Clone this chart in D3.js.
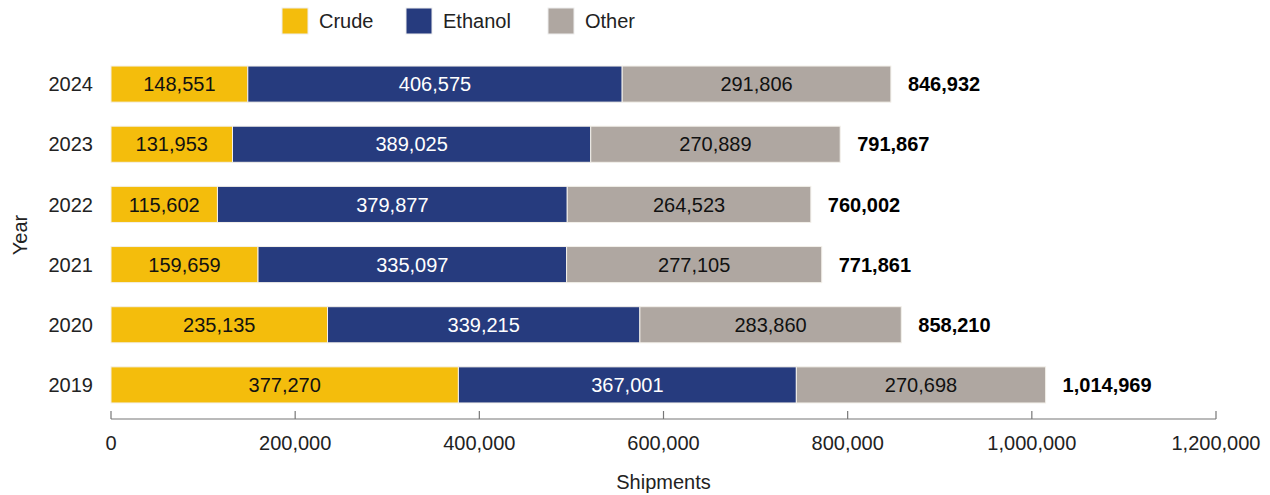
<!DOCTYPE html>
<html>
<head>
<meta charset="utf-8">
<script src="https://cdn.jsdelivr.net/npm/d3@7"></script>
<style>
  body { margin: 0; background: #fff; }
  text { font-family: "Liberation Sans", Arial, sans-serif; font-size: 20px; }
</style>
</head>
<body>
<svg id="chart" width="1270" height="495"></svg>
<script>
const years   = ["2024", "2023", "2022", "2021", "2020", "2019"];
const crude   = [148551, 131953, 115602, 159659, 235135, 377270];
const ethanol = [406575, 389025, 379877, 335097, 339215, 367001];
const other   = [291806, 270889, 264523, 277105, 283860, 270698];
const totals  = [846932, 791867, 760002, 771861, 858210, 1014969];
const seriesNames = ["Crude", "Ethanol", "Other"];
const colors = ["#f4bd0c", "#263b7e", "#afa7a1"];
const xTicks = [0, 200000, 400000, 600000, 800000, 1000000, 1200000];

const svg = d3.select("#chart");
const fmt = d3.format(",");

const x = d3.scaleLinear().domain([0, 1200000]).range([111, 1216]);
const y = d3.scaleBand().domain(years).range([54, 415]).paddingInner(0.4).paddingOuter(0.2);

// stack the three series
const rows = years.map((yr, i) => ({year: yr, Crude: crude[i], Ethanol: ethanol[i], Other: other[i], total: totals[i]}));
const stacked = d3.stack().keys(seriesNames)(rows);

const layer = svg.selectAll(".layer")
  .data(stacked)
  .enter().append("g")
  .attr("class", "layer");

layer.selectAll("rect")
  .data(d => d)
  .enter().append("rect")
  .attr("x", d => x(d[0]))
  .attr("y", d => y(d.data.year))
  .attr("width", d => x(d[1]) - x(d[0]))
  .attr("height", y.bandwidth())
  .attr("fill", function(d){ return colors[seriesNames.indexOf(d3.select(this.parentNode).datum().key)]; })
  .attr("stroke", "#f3f0ea")
  .attr("stroke-width", 1);

layer.selectAll("text")
  .data(d => d.map(v => ({v: v, key: d.key})))
  .enter().append("text")
  .attr("x", d => (x(d.v[0]) + x(d.v[1])) / 2)
  .attr("y", d => y(d.v.data.year) + y.bandwidth() / 2)
  .attr("dy", "0.36em")
  .attr("text-anchor", "middle")
  .attr("fill", d => d.key === "Ethanol" ? "#fff" : "#111")
  .text(d => fmt(d.v.data[d.key]));

// totals
svg.selectAll(".total")
  .data(rows)
  .enter().append("text")
  .attr("class", "total")
  .attr("x", d => x(d.total) + 17)
  .attr("y", d => y(d.year) + y.bandwidth() / 2)
  .attr("dy", "0.36em")
  .style("font-weight", "bold")
  .attr("fill", "#000")
  .text(d => fmt(d.total));

// year labels
svg.selectAll(".ylab")
  .data(years)
  .enter().append("text")
  .attr("x", 93)
  .attr("y", d => y(d) + y.bandwidth() / 2)
  .attr("dy", "0.36em")
  .attr("text-anchor", "end")
  .attr("fill", "#222")
  .text(d => d);

svg.append("text")
  .attr("transform", "translate(27,235) rotate(-90)")
  .attr("text-anchor", "middle")
  .attr("fill", "#222")
  .text("Year");

// x axis, ticks pointing up
const axis = svg.append("g").attr("transform", "translate(0,419)");
axis.append("line")
  .attr("x1", x(0)).attr("x2", x(1200000))
  .attr("stroke", "#777").attr("stroke-width", 1.2);
axis.selectAll(".tick")
  .data(xTicks)
  .enter().append("line")
  .attr("x1", d => x(d)).attr("x2", d => x(d))
  .attr("y1", -8).attr("y2", 0)
  .attr("stroke", "#777").attr("stroke-width", 1.2);
axis.selectAll(".tlab")
  .data(xTicks)
  .enter().append("text")
  .attr("x", d => x(d))
  .attr("y", 31)
  .attr("text-anchor", "middle")
  .attr("fill", "#222")
  .text(d => fmt(d));

svg.append("text")
  .attr("x", x(600000))
  .attr("y", 489)
  .attr("text-anchor", "middle")
  .attr("fill", "#222")
  .text("Shipments");

// legend
const legendX = [282, 406, 548];
const legend = svg.selectAll(".legend")
  .data(seriesNames)
  .enter().append("g")
  .attr("class", "legend")
  .attr("transform", (d, i) => "translate(" + legendX[i] + ",8)");
legend.append("rect")
  .attr("width", 26).attr("height", 26)
  .attr("fill", (d, i) => colors[i])
  .attr("stroke", "#eee");
legend.append("text")
  .attr("x", 37).attr("y", 13).attr("dy", "0.36em")
  .attr("fill", "#222")
  .text(d => d);
</script>
</body>
</html>
